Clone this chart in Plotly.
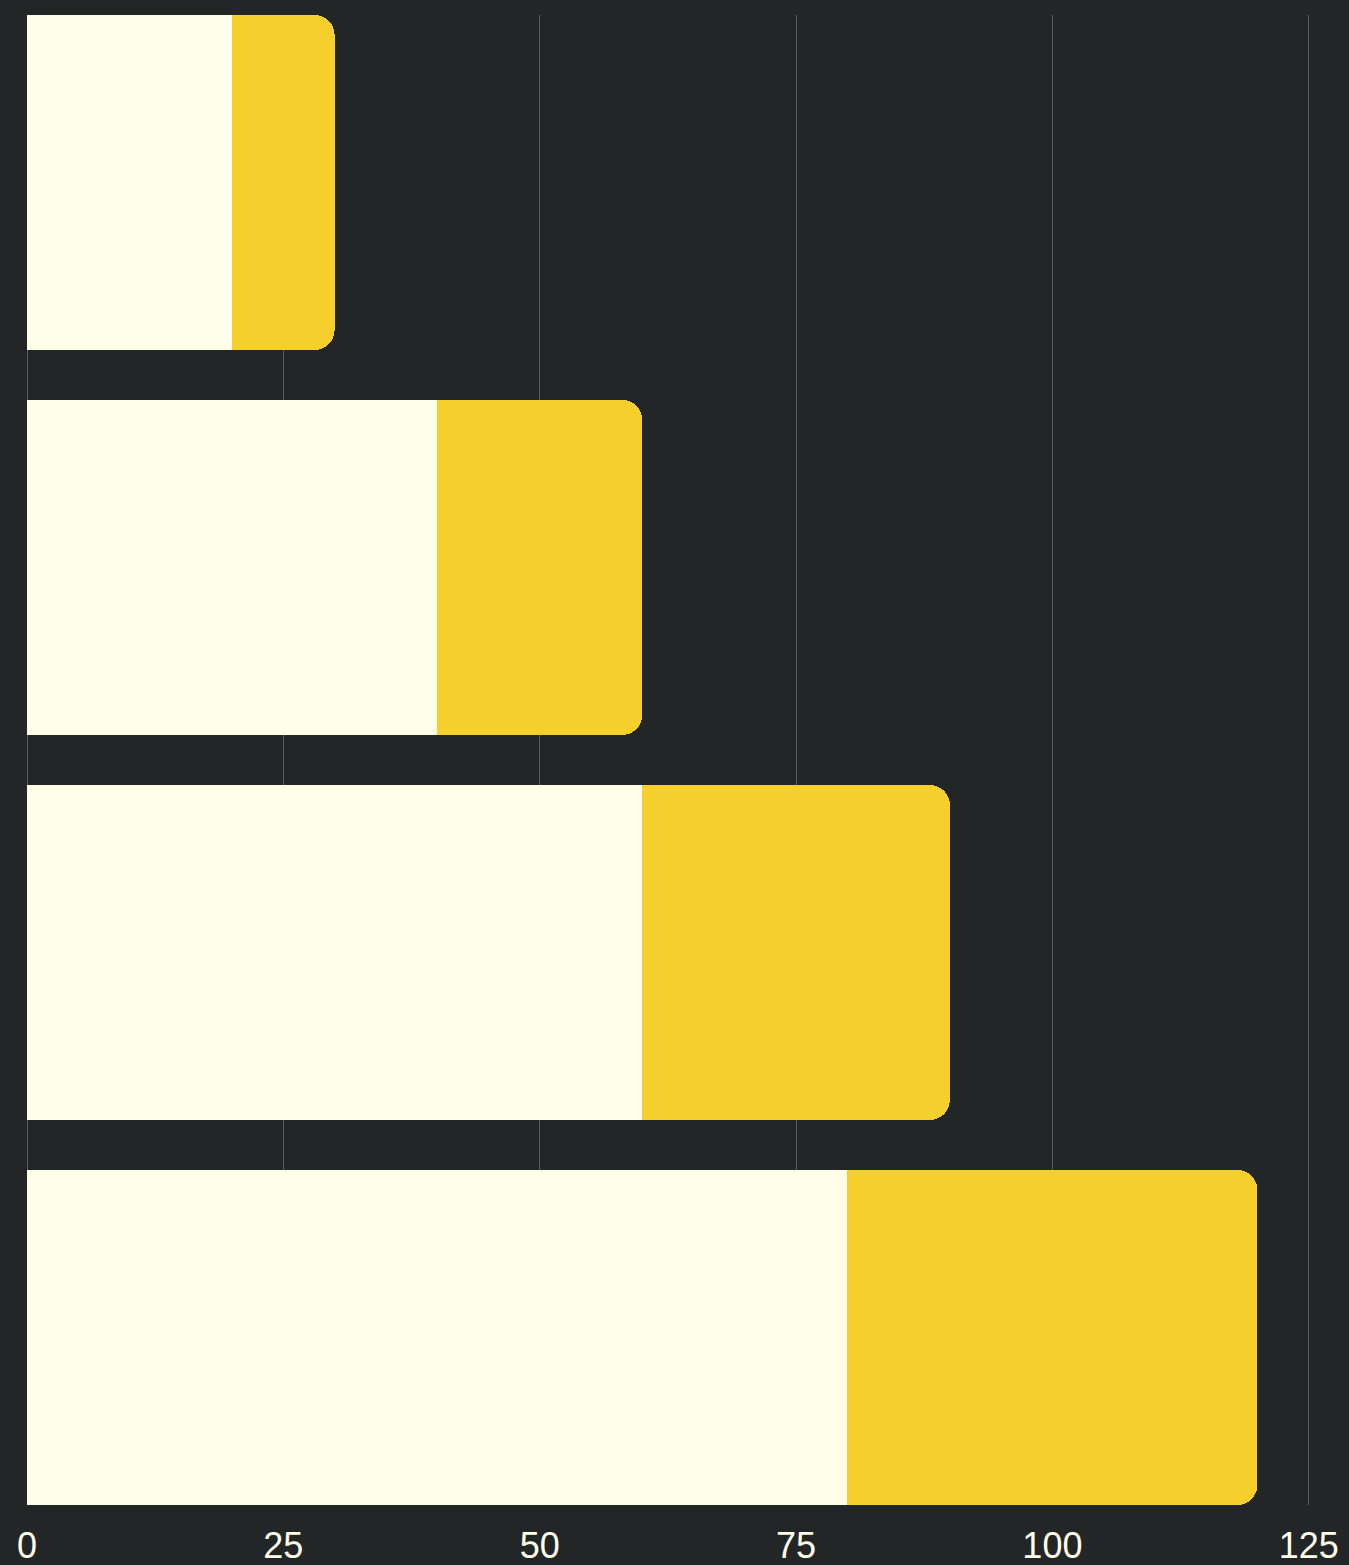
import plotly.graph_objects as go

categories = ["A", "B", "C", "D"]
series1 = [20, 40, 60, 80]
series2 = [10, 20, 30, 40]
tick_vals = [0, 25, 50, 75, 100, 125]

bg = "#232626"
cream = "#fffee9"
yellow = "#f5cf2b"

fig = go.Figure()
fig.add_trace(go.Bar(y=categories, x=series1, orientation="h", marker=dict(color=cream, line=dict(width=0)), showlegend=False))
fig.add_trace(go.Bar(y=categories, x=series2, orientation="h", marker=dict(color=yellow, line=dict(width=0)), showlegend=False))

fig.update_layout(
    width=1349, height=1565,
    barmode="stack", bargap=0.13, barcornerradius=20,
    paper_bgcolor=bg, plot_bgcolor=bg,
    margin=dict(l=27, r=30, t=15, b=60, autoexpand=False),
    font=dict(family="Liberation Sans, Arial, sans-serif", size=36, color=cream),
)
fig.update_xaxes(range=[0, 126], tickvals=tick_vals, showgrid=True, gridcolor="#5a5d5d", gridwidth=1,
                 zeroline=True, zerolinecolor="#5a5d5d", zerolinewidth=1, showline=False, ticks="",
                 tickfont=dict(size=36, color=cream), ticklabelstandoff=16, automargin=False)
fig.update_yaxes(range=[3.435, -0.435], showticklabels=False, showgrid=False, zeroline=False, showline=False,
                 automargin=False)
fig.write_html("out.html", config={"displayModeBar": False},
               post_script="document.body.style.margin='0';document.body.style.background='#232626';")
